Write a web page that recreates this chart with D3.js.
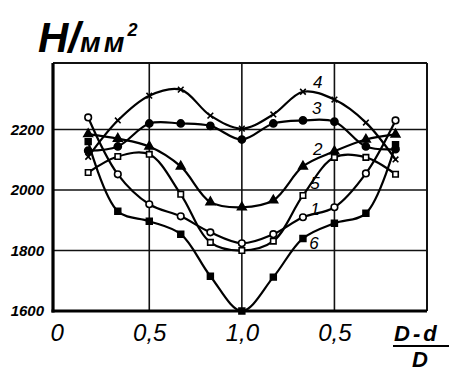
<!DOCTYPE html>
<html>
<head>
<meta charset="utf-8">
<script src="https://cdn.jsdelivr.net/npm/d3@7"></script>
<style>
  body { margin: 0; background: #fff; }
  svg { display: block; }
</style>
</head>
<body>
<div id="chart"></div>
<script>
// (D-d)/D goes 0 -> 1 -> 0, so positions are drawn on a 0..2 track
var positions = [0.17, 0.33, 0.5, 0.67, 0.83, 1.0, 1.17, 1.33, 1.5, 1.67, 1.83];

var curve1 = [2240, 2052, 1953, 1913, 1860, 1824, 1854, 1910, 1943, 2055, 2230];
var curve2 = [2185, 2170, 2144, 2078, 1960, 1943, 1966, 2078, 2128, 2167, 2184];
var curve3 = [2130, 2144, 2220, 2220, 2212, 2167, 2220, 2230, 2226, 2144, 2135];
var curve4 = [2110, 2230, 2312, 2332, 2246, 2203, 2250, 2325, 2299, 2223, 2101];
var curve5 = [2058, 2111, 2118, 1986, 1827, 1800, 1831, 1982, 2108, 2108, 2052];
var curve6 = [2160, 1930, 1897, 1854, 1715, 1600, 1712, 1840, 1890, 1923, 2150];

var seriesNames = ["1", "2", "3", "4", "5", "6"];
var seriesMarkers = ["openCircle", "triangle", "dot", "cross", "openSquare", "square"];

var xTicks = [0, 0.5, 1, 1.5];
var xTickLabels = ["0", "0,5", "1,0", "0,5"];
var yTicks = [1600, 1800, 2000, 2200];
var yTickLabels = ["1600", "1800", "2000", "2200"];
var yGrid = [1800, 2000, 2200];
var xGrid = [0.5, 1, 1.5];

// where the curve numbers sit, in chart units
var labelPos = [[1.395, 1935], [1.41, 2134], [1.405, 2269], [1.41, 2355], [1.395, 2022], [1.39, 1824]];

var width = 449, height = 373;
var x = d3.scaleLinear().domain([-0.02, 2]).range([53, 427]);
var y = d3.scaleLinear().domain([1600, 2420]).range([311, 63]);

var svg = d3.select("#chart").append("svg")
  .attr("width", width)
  .attr("height", height);

// grid
svg.append("g").selectAll("line").data(yGrid).join("line")
  .attr("x1", x(-0.02)).attr("x2", x(2))
  .attr("y1", d => y(d)).attr("y2", d => y(d))
  .attr("stroke", "#111").attr("stroke-width", 1.6);

svg.append("g").selectAll("line").data(xGrid).join("line")
  .attr("x1", d => x(d)).attr("x2", d => x(d))
  .attr("y1", y(2420)).attr("y2", y(1600))
  .attr("stroke", "#111").attr("stroke-width", 1.6);

// frame: heavy left/bottom, light top/right
svg.append("line")
  .attr("x1", x(-0.02)).attr("x2", x(2)).attr("y1", y(2420)).attr("y2", y(2420))
  .attr("stroke", "#111").attr("stroke-width", 2);
svg.append("line")
  .attr("x1", x(2)).attr("x2", x(2)).attr("y1", y(2420)).attr("y2", y(1600))
  .attr("stroke", "#111").attr("stroke-width", 2);
svg.append("line")
  .attr("x1", x(-0.02)).attr("x2", x(-0.02)).attr("y1", y(2420)).attr("y2", y(1600) + 1.5)
  .attr("stroke", "#000").attr("stroke-width", 3.2);
svg.append("line")
  .attr("x1", x(-0.02) - 1.5).attr("x2", x(2)).attr("y1", y(1600)).attr("y2", y(1600))
  .attr("stroke", "#000").attr("stroke-width", 3.2);

// axes (labels only)
var yAxis = svg.append("g")
  .attr("transform", `translate(${x(-0.02)},0)`)
  .call(d3.axisLeft(y).tickValues(yTicks).tickSize(0).tickPadding(9)
    .tickFormat((d, i) => yTickLabels[i]));
yAxis.select(".domain").remove();
yAxis.selectAll("text")
  .attr("font-family", "Liberation Sans, Arial, sans-serif")
  .attr("font-style", "italic")
  .attr("font-weight", "bold")
  .attr("font-size", 15)
  .attr("fill", "#000");

var xAxis = svg.append("g")
  .attr("transform", `translate(0,${y(1600)})`)
  .call(d3.axisBottom(x).tickValues(xTicks).tickSize(0).tickPadding(13)
    .tickFormat((d, i) => xTickLabels[i]));
xAxis.select(".domain").remove();
xAxis.selectAll("text")
  .attr("font-family", "Liberation Sans, Arial, sans-serif")
  .attr("font-style", "italic")
  .attr("font-size", 24)
  .attr("fill", "#000");

// curves
var allSeries = [curve1, curve2, curve3, curve4, curve5, curve6];
var line = d3.line()
  .x((d, i) => x(positions[i]))
  .y(d => y(d))
  .curve(d3.curveCatmullRom.alpha(0.5));

svg.append("g")
  .attr("fill", "none")
  .attr("stroke", "#000")
  .attr("stroke-width", 2.2)
  .attr("stroke-linejoin", "round")
  .attr("stroke-linecap", "round")
  .selectAll("path").data(allSeries).join("path")
  .attr("d", d => line(d));

// markers
var crossSymbol = {
  draw: function(context, size) {
    var r = Math.sqrt(size) / 2;
    context.moveTo(-r, -r); context.lineTo(r, r);
    context.moveTo(r, -r); context.lineTo(-r, r);
  }
};
var markerStyle = {
  openCircle: {type: d3.symbolCircle, size: 34, fill: "#fff", stroke: "#000"},
  dot: {type: d3.symbolCircle, size: 40, fill: "#000", stroke: "#000"},
  openSquare: {type: d3.symbolSquare, size: 30, fill: "#fff", stroke: "#000"},
  square: {type: d3.symbolSquare, size: 34, fill: "#000", stroke: "#000"},
  triangle: {type: d3.symbolTriangle, size: 32, fill: "#000", stroke: "#000"},
  cross: {type: crossSymbol, size: 32, fill: "none", stroke: "#000"}
};

allSeries.forEach(function(values, s) {
  var m = markerStyle[seriesMarkers[s]];
  svg.append("g").selectAll("path").data(values).join("path")
    .attr("transform", (d, i) => `translate(${x(positions[i])},${y(d)})`)
    .attr("d", d3.symbol().type(m.type).size(m.size))
    .attr("fill", m.fill)
    .attr("stroke", m.stroke)
    .attr("stroke-width", 1.6);
});

// curve numbers
svg.append("g").selectAll("text").data(seriesNames).join("text")
  .attr("x", (d, i) => x(labelPos[i][0]))
  .attr("y", (d, i) => y(labelPos[i][1]))
  .attr("text-anchor", "middle")
  .attr("dominant-baseline", "central")
  .attr("font-family", "Liberation Sans, Arial, sans-serif")
  .attr("font-style", "italic")
  .attr("font-size", 17)
  .text(d => d);

// unit title
var title = svg.append("text")
  .attr("x", 38)
  .attr("y", 52)
  .attr("font-family", "Liberation Sans, Arial, sans-serif")
  .attr("font-style", "italic")
  .attr("font-weight", "bold");
title.append("tspan").attr("font-size", 42).text("Н/");
title.append("tspan").attr("font-size", 28).attr("letter-spacing", 3).text("мм");
title.append("tspan").attr("font-size", 18).attr("dy", -16).text("2");

// x axis title as a fraction
var frac = svg.append("g")
  .attr("font-family", "Liberation Sans, Arial, sans-serif")
  .attr("font-style", "italic")
  .attr("font-weight", "bold")
  .attr("font-size", 22);
frac.append("text").attr("x", 394).attr("y", 341).attr("letter-spacing", 3).text("D-d");
frac.append("line")
  .attr("x1", 393).attr("x2", 449).attr("y1", 346).attr("y2", 346)
  .attr("stroke", "#000").attr("stroke-width", 2);
frac.append("text").attr("x", 420).attr("y", 367).attr("text-anchor", "middle").text("D");
</script>
</body>
</html>
